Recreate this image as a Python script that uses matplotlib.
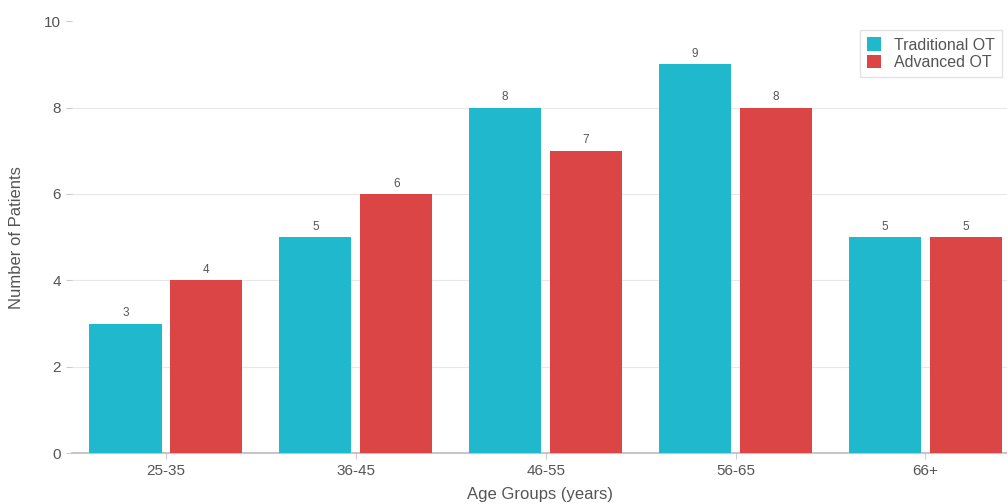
import numpy as np
import matplotlib
matplotlib.use('Agg')
import matplotlib.pyplot as plt

age_groups = ['25-35', '36-45', '46-55', '56-65', '66+']
traditional_ot = [3, 5, 8, 9, 5]
advanced_ot = [4, 6, 7, 8, 5]

plt.rcParams['font.family'] = ['Liberation Sans', 'DejaVu Sans']

teal = '#1FB8CD'
red = '#DB4545'
txt = '#555555'

fig = plt.figure(figsize=(10.07, 5.04), dpi=100)
ax = fig.add_axes([0.0715, 0.101, 0.9285, 0.857])

x = np.arange(len(age_groups))
w = 0.38
off = 0.213
b1 = ax.bar(x - off, traditional_ot, w, color=teal, label='Traditional OT', zorder=3)
b2 = ax.bar(x + off, advanced_ot, w, color=red, label='Advanced OT', zorder=3)

for bars in (b1, b2):
    for b in bars:
        ax.text(b.get_x() + b.get_width() / 2, b.get_height() + 0.1, f"{int(b.get_height())}",
                ha='center', va='bottom', fontsize=8.5, color=txt)

ax.set_xlim(-0.495, 4.43)
ax.set_ylim(0, 10)
ax.set_yticks([0, 2, 4, 6, 8, 10])
ax.set_xticks(x)
ax.set_xticklabels(age_groups)
ax.grid(axis='y', color='#e8e8e8', linewidth=0.8, zorder=0)
ax.set_axisbelow(True)
ax.get_ygridlines()[-1].set_visible(False)

for s in ['top', 'right', 'left']:
    ax.spines[s].set_visible(False)
ax.spines['bottom'].set_color('#bbbbbb')
ax.spines['bottom'].set_linewidth(1.2)

ax.tick_params(axis='both', colors='#cccccc', labelcolor=txt, labelsize=11, length=4, width=0.8)
ax.tick_params(axis='y', pad=4)

ax.set_ylabel('Number of Patients', fontsize=12, color=txt, labelpad=14)
ax.set_xlabel('Age Groups (years)', fontsize=12, color=txt, labelpad=7)

leg = ax.legend(loc='upper right', bbox_to_anchor=(0.995, 0.979), borderaxespad=0, fontsize=11.5,
                frameon=True, fancybox=False, edgecolor='#dddddd', handlelength=0.9, handleheight=0.9,
                labelcolor=txt, borderpad=0.45, labelspacing=0.15)
leg.get_frame().set_linewidth(1.0)

fig.savefig('out.png', dpi=100)
